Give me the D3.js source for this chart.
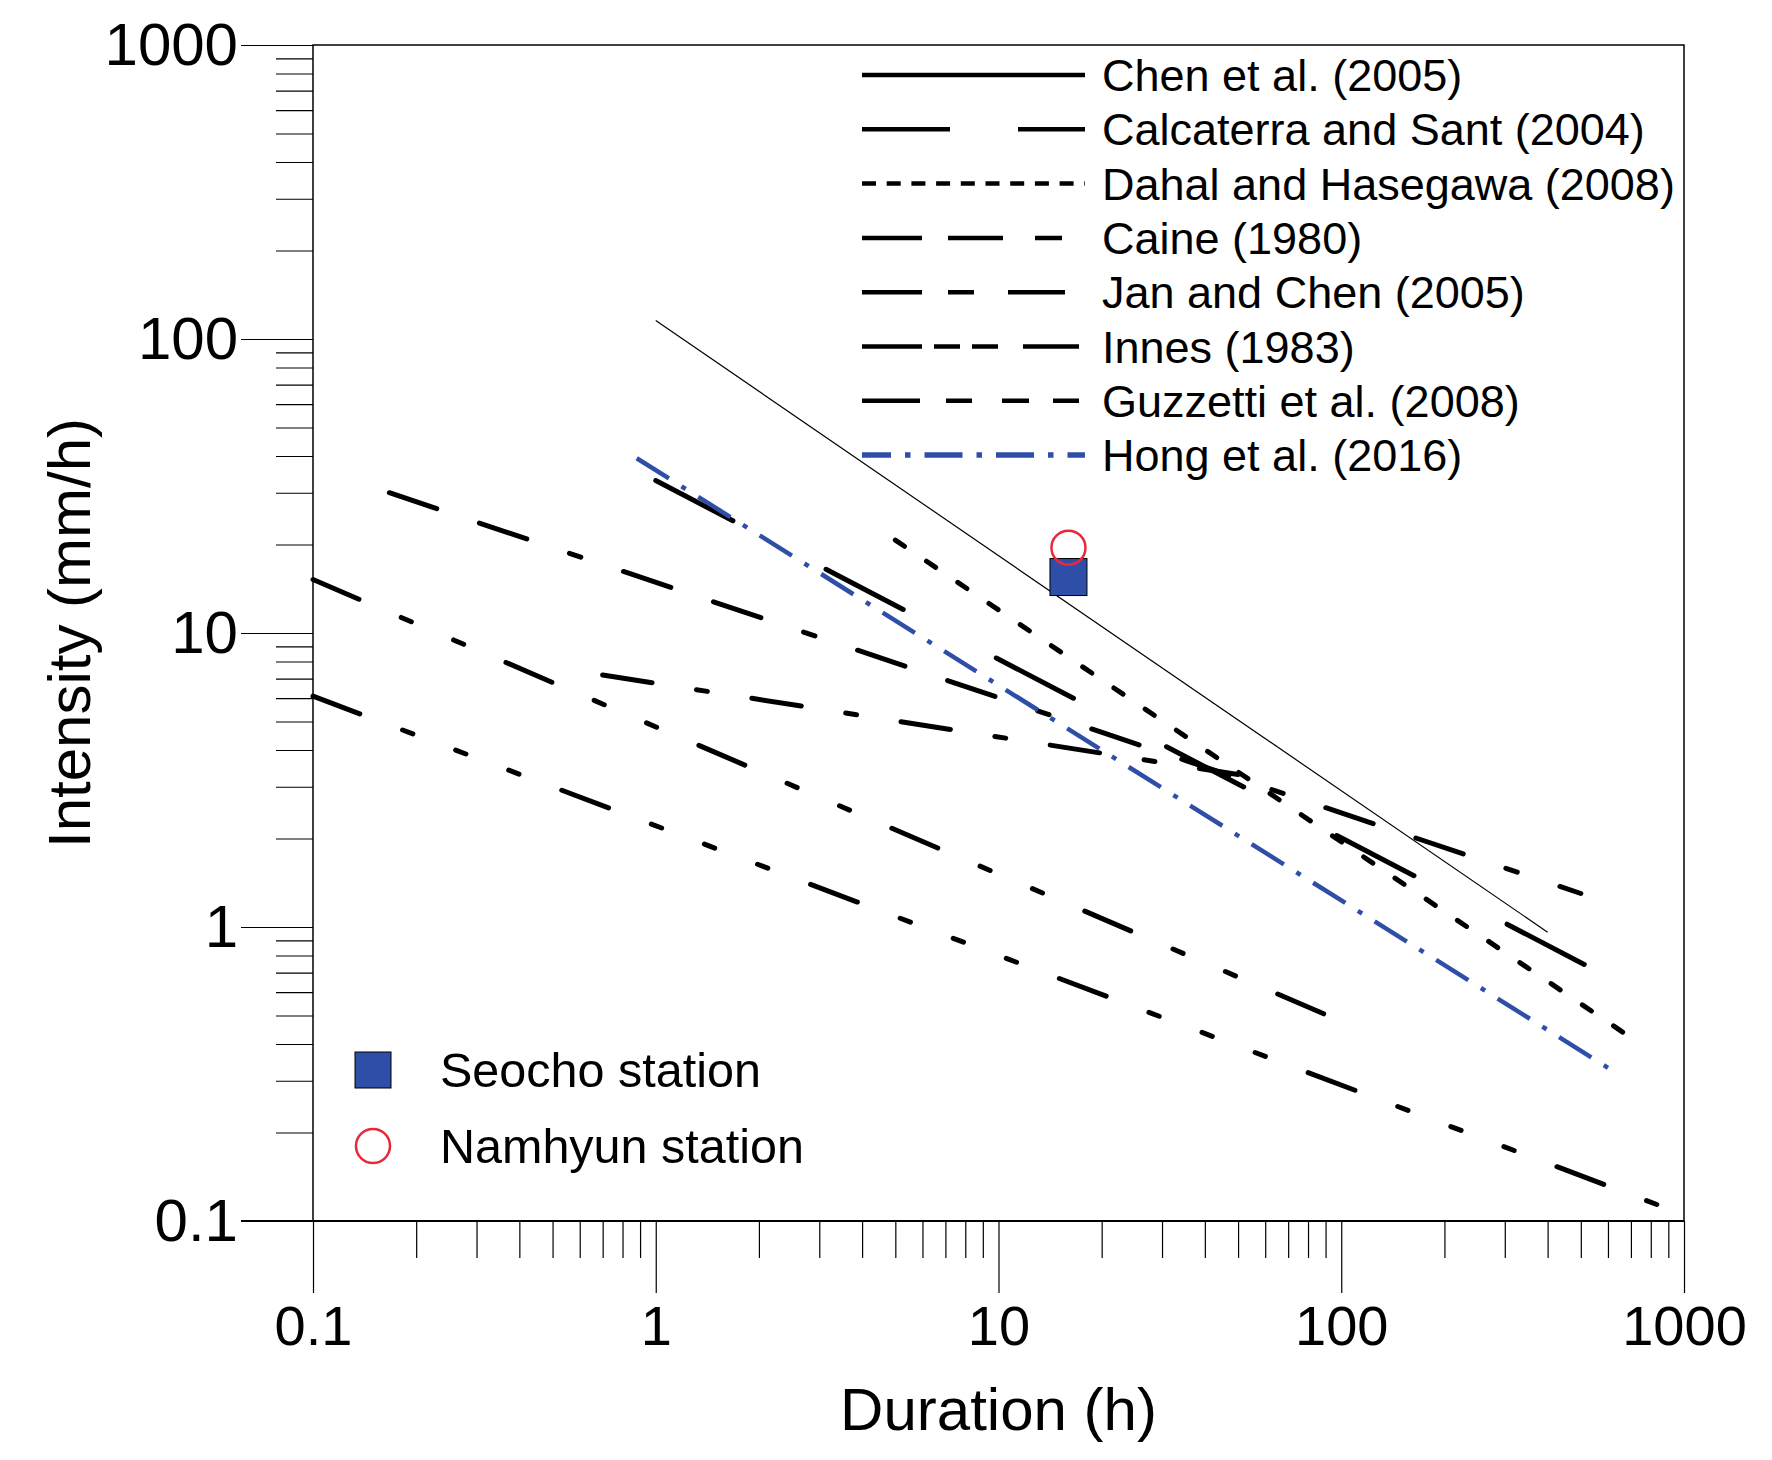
<!DOCTYPE html>
<html>
<head>
<meta charset="utf-8">
<title>Rainfall intensity-duration thresholds</title>
<script src="https://cdn.jsdelivr.net/npm/d3@7"></script>
<style>
    body { margin: 0; background: #fff; }
    #chart-area text { font-family: "Liberation Sans", Arial, sans-serif; fill: #000; }
</style>
</head>
<body>
<div id="chart-area"></div>
<script>
// threshold lines, end points (duration in h, intensity in mm/h)
const thresholdNames = ["Chen et al. (2005)", "Calcaterra and Sant (2004)", "Dahal and Hasegawa (2008)",
    "Caine (1980)", "Jan and Chen (2005)", "Innes (1983)", "Guzzetti et al. (2008)", "Hong et al. (2016)"];
const durationFrom = [1, 1, 5, 0.167, 0.7, 0.1, 0.1, 0.88];
const durationTo = [400, 530, 680, 500, 50, 95, 1000, 600];
const intensityFrom = [115.5, 33, 20.7, 30, 7.2, 15.2, 6.1, 39.3];
const intensityTo = [0.96, 0.73, 0.43, 1.3, 3.3, 0.49, 0.105, 0.332];

// rain gauge stations
const stationNames = ["Seocho station", "Namhyun station"];
const stationDuration = [16, 16];
const stationIntensity = [15.5, 19.5];

const durationTicks = [0.1, 1, 10, 100, 1000];
const intensityTicks = [0.1, 1, 10, 100, 1000];

// how each threshold is stroked: in the plot and in the legend sample
const lineStyles = [
    {color: "#000", width: 1.2, cap: "butt", dash: null, legendDash: null},
    {color: "#000", width: 5, cap: "round", dash: "87 105", legendDash: "88 68"},
    {color: "#000", width: 5, cap: "round", dash: "11 26.7", legendDash: "14 10.7"},
    {color: "#000", width: 5, cap: "round", dash: "50 45 50 45 12 45", legendDash: "60 26 55 32 27 60"},
    {color: "#000", width: 5, cap: "round", dash: "50 45 11 45", legendDash: "60 26 26 34 57 60"},
    {color: "#000", width: 5, cap: "round", dash: "50 46 11 46 11 46", legendDash: "60 12 26 12 26 25 56 60"},
    {color: "#000", width: 5, cap: "round", dash: "50 45.75 11 45.75 11 45.75 11 45.75", legendDash: "58 26 26 30 27 24 26 60"},
    {color: "#2f4ea8", width: 4.5, cap: "butt", dash: "38 14.8 5 14.8", legendDash: "38 14 5.5 14", legendOffset: 9}
];

class ThresholdChart {
    constructor(parentElement) {
        this.parentElement = parentElement;
        this.initVis();
    }

    initVis() {
        let vis = this;

        vis.width = 1772;
        vis.height = 1460;
        vis.margin = {top: 45, right: 88, bottom: 239, left: 313};

        vis.svg = d3.select("#" + vis.parentElement).append("svg")
            .attr("width", vis.width)
            .attr("height", vis.height);

        vis.svg.append("rect")
            .attr("width", vis.width)
            .attr("height", vis.height)
            .attr("fill", "#fff");

        vis.x = d3.scaleLog().domain([0.1, 1000]).range([vis.margin.left, vis.width - vis.margin.right]);
        vis.y = d3.scaleLog().domain([0.1, 1000]).range([vis.height - vis.margin.bottom, vis.margin.top]);

        let x0 = vis.margin.left, x1 = vis.width - vis.margin.right;
        let y0 = vis.height - vis.margin.bottom, y1 = vis.margin.top;

        // minor ticks are the 2..9 steps of every decade
        let xMinor = vis.x.ticks().filter(d => !durationTicks.includes(d));
        let yMinor = vis.y.ticks().filter(d => !intensityTicks.includes(d));

        let xMinorAxis = vis.svg.append("g")
            .attr("transform", "translate(0," + y0 + ")")
            .call(d3.axisBottom(vis.x).tickValues(xMinor).tickSize(37).tickFormat(""));
        let xMajorAxis = vis.svg.append("g")
            .attr("transform", "translate(0," + y0 + ")")
            .call(d3.axisBottom(vis.x).tickValues(durationTicks).tickSize(72).tickPadding(12).tickFormat(d => String(d)));
        let yMinorAxis = vis.svg.append("g")
            .attr("transform", "translate(" + x0 + ",0)")
            .call(d3.axisLeft(vis.y).tickValues(yMinor).tickSize(37).tickFormat(""));
        let yMajorAxis = vis.svg.append("g")
            .attr("transform", "translate(" + x0 + ",0)")
            .call(d3.axisLeft(vis.y).tickValues(intensityTicks).tickSize(72).tickPadding(3).tickFormat(d => String(d)));

        [xMinorAxis, xMajorAxis, yMinorAxis, yMajorAxis].forEach(g => {
            g.select(".domain").remove();
            g.selectAll(".tick line").attr("stroke", "#000").attr("stroke-width", 1.2);
            g.selectAll(".tick text").attr("fill", "#000");
        });
        xMajorAxis.selectAll(".tick text").attr("font-size", 56);
        yMajorAxis.selectAll(".tick text").attr("font-size", 60);

        // frame
        vis.svg.append("rect")
            .attr("x", x0)
            .attr("y", y1)
            .attr("width", x1 - x0)
            .attr("height", y0 - y1)
            .attr("fill", "none")
            .attr("stroke", "#000")
            .attr("stroke-width", 1.5);

        vis.svg.append("line")
            .attr("x1", x0 - 72)
            .attr("x2", x1)
            .attr("y1", y0)
            .attr("y2", y0)
            .attr("stroke", "#000")
            .attr("stroke-width", 2);

        // axis titles
        vis.svg.append("text")
            .attr("x", (x0 + x1) / 2)
            .attr("y", 1430)
            .attr("text-anchor", "middle")
            .attr("font-size", 60)
            .text("Duration (h)");

        vis.svg.append("text")
            .attr("transform", "translate(90," + ((y0 + y1) / 2) + ") rotate(-90)")
            .attr("text-anchor", "middle")
            .attr("font-size", 60)
            .text("Intensity (mm/h)");

        // threshold lines
        vis.line = d3.line()
            .x(d => vis.x(d[0]))
            .y(d => vis.y(d[1]));

        vis.thresholds = thresholdNames.map((name, i) => ({
            name: name,
            points: [[durationFrom[i], intensityFrom[i]], [durationTo[i], intensityTo[i]]],
            style: lineStyles[i]
        }));

        vis.svg.append("g")
            .attr("class", "thresholds")
            .selectAll("path")
            .data(vis.thresholds)
            .enter().append("path")
            .attr("d", d => vis.line(d.points))
            .attr("fill", "none")
            .attr("stroke", d => d.style.color)
            .attr("stroke-width", d => d.style.width)
            .attr("stroke-linecap", d => d.style.cap)
            .attr("stroke-dasharray", d => d.style.dash);

        // stations
        let stationColors = ["#2f4ea8", "#e8293b"];
        let squareSize = 37;

        vis.svg.append("rect")
            .attr("x", vis.x(stationDuration[0]) - squareSize / 2)
            .attr("y", vis.y(stationIntensity[0]) - squareSize / 2)
            .attr("width", squareSize)
            .attr("height", squareSize)
            .attr("fill", stationColors[0])
            .attr("stroke", "#000")
            .attr("stroke-width", 1);

        vis.svg.append("circle")
            .attr("cx", vis.x(stationDuration[1]))
            .attr("cy", vis.y(stationIntensity[1]))
            .attr("r", 17)
            .attr("fill", "none")
            .attr("stroke", stationColors[1])
            .attr("stroke-width", 2.5);

        // legend of the thresholds
        let legend = vis.svg.append("g").attr("class", "legend");
        let rowStep = 54.3, rowTop = 75;

        let rows = legend.selectAll(".legend-row")
            .data(vis.thresholds)
            .enter().append("g")
            .attr("class", "legend-row")
            .attr("transform", (d, i) => "translate(0," + (rowTop + i * rowStep) + ")");

        rows.append("line")
            .attr("x1", 862)
            .attr("x2", 1085)
            .attr("stroke", d => d.style.color)
            .attr("stroke-width", d => d.style.color === "#000" ? 4.5 : 5.5)
            .attr("stroke-dasharray", d => d.style.legendDash)
            .attr("stroke-dashoffset", d => d.style.legendOffset || 0);

        rows.append("text")
            .attr("x", 1102)
            .attr("y", 16)
            .attr("font-size", 45)
            .text(d => d.name);

        // legend of the stations
        let stationLegend = vis.svg.append("g").attr("class", "station-legend");
        stationLegend.append("rect")
            .attr("x", 373 - 18)
            .attr("y", 1070 - 18)
            .attr("width", 36)
            .attr("height", 36)
            .attr("fill", stationColors[0])
            .attr("stroke", "#000")
            .attr("stroke-width", 1);
        stationLegend.append("circle")
            .attr("cx", 373)
            .attr("cy", 1146)
            .attr("r", 17)
            .attr("fill", "none")
            .attr("stroke", stationColors[1])
            .attr("stroke-width", 2.5);
        stationLegend.selectAll("text")
            .data(stationNames)
            .enter().append("text")
            .attr("x", 440)
            .attr("y", (d, i) => 1070 + i * 76 + 17)
            .attr("font-size", 48.5)
            .text(d => d);
    }
}

new ThresholdChart("chart-area");
</script>
</body>
</html>
